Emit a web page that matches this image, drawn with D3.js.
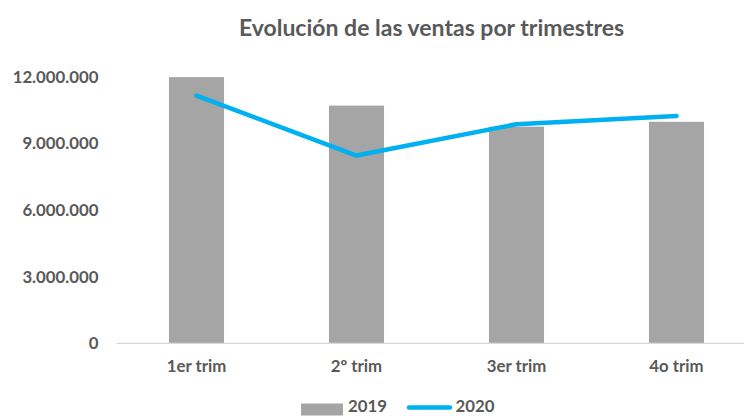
<!DOCTYPE html>
<html>
<head>
<meta charset="utf-8">
<script src="https://cdn.jsdelivr.net/npm/d3@7"></script>
<style>
  html, body { margin: 0; padding: 0; background: #fff; }
  svg { display: block; }
  text { font-family: Lato, "Open Sans", sans-serif; font-weight: 700; fill: #595959; }
</style>
</head>
<body>
<svg id="chart" width="744" height="416"></svg>
<script>
const title = "Evolución de las ventas por trimestres";
const categories = ["1er trim", "2º trim", "3er trim", "4o trim"];
const series2019 = [11980000, 10700000, 9750000, 9970000];
const series2020 = [11150000, 8450000, 9860000, 10230000];
const yTicks = [0, 3000000, 6000000, 9000000, 12000000];
const seriesNames = ["2019", "2020"];

const W = 744, H = 416;
const svg = d3.select("#chart");
const textColor = "#595959";
const barColor = "#A5A5A5";
const lineColor = "#00B0F0";

const locale = d3.formatLocale({ decimal: ",", thousands: ".", grouping: [3], currency: ["", "€"] });
const fmt = locale.format(",");

const x = d3.scaleBand().domain(categories).range([116.5, 756.5]).paddingInner(0.656).paddingOuter(0.328);
const y = d3.scaleLinear().domain([0, 12000000]).range([343.3, 76.7]);

// Title
svg.append("text")
  .attr("x", 431.5).attr("y", 36)
  .attr("text-anchor", "middle")
  .style("font-size", "23px")
  .text(title);

// Bars
svg.append("g").selectAll("rect")
  .data(categories)
  .join("rect")
  .attr("x", d => x(d))
  .attr("width", x.bandwidth())
  .attr("y", (d, i) => y(series2019[i]))
  .attr("height", (d, i) => y(0) - y(series2019[i]))
  .attr("fill", barColor);

// Baseline
svg.append("line")
  .attr("x1", 116.5).attr("x2", W)
  .attr("y1", y(0)).attr("y2", y(0))
  .attr("stroke", "#D9D9D9").attr("stroke-width", 1.3);

// Line 2020
const line = d3.line()
  .x((d, i) => x(categories[i]) + x.bandwidth() / 2)
  .y(d => y(d));
svg.append("path")
  .datum(series2020)
  .attr("d", line)
  .attr("fill", "none")
  .attr("stroke", lineColor)
  .attr("stroke-width", 4.5)
  .attr("stroke-linecap", "round")
  .attr("stroke-linejoin", "round");

// Y axis
const yAxis = svg.append("g")
  .attr("transform", "translate(98.5,0)")
  .call(d3.axisLeft(y).tickValues(yTicks).tickFormat(fmt).tickSize(0).tickPadding(0));
yAxis.select(".domain").remove();
yAxis.selectAll("text")
  .attr("fill", textColor)
  .style("font-family", "Lato, sans-serif")
  .style("font-weight", 700)
  .style("font-size", "16.8px");

// X axis
const xAxis = svg.append("g")
  .attr("transform", `translate(0,${y(0)})`)
  .call(d3.axisBottom(x).tickSize(0).tickPadding(17));
xAxis.select(".domain").remove();
xAxis.selectAll("text")
  .attr("fill", textColor)
  .style("font-family", "Lato, sans-serif")
  .style("font-weight", 700)
  .style("font-size", "16.8px");

// Legend
const lg = svg.append("g");
lg.append("rect").attr("x", 301).attr("y", 403.5).attr("width", 42).attr("height", 12).attr("fill", barColor);
lg.append("text").attr("x", 348).attr("y", 412).style("font-size", "16.8px").text(seriesNames[0]);
lg.append("line").attr("x1", 409).attr("x2", 450).attr("y1", 407.5).attr("y2", 407.5)
  .attr("stroke", lineColor).attr("stroke-width", 4.5).attr("stroke-linecap", "round");
lg.append("text").attr("x", 455.5).attr("y", 412).style("font-size", "16.8px").text(seriesNames[1]);
</script>
</body>
</html>
